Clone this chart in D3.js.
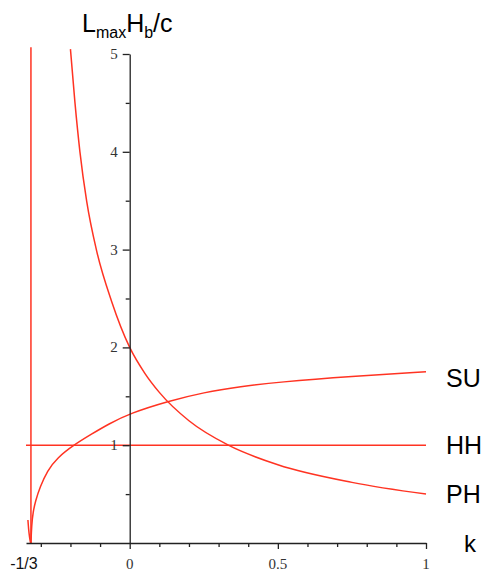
<!DOCTYPE html>
<html>
<head>
<meta charset="utf-8">
<script src="https://cdn.jsdelivr.net/npm/d3@7"></script>
<style>
  body { margin: 0; background: #fff; }
  svg { display: block; }
</style>
</head>
<body>
<div id="viz-container"></div>
<script>
'use strict';

// Values.
const kMin = -0.35;
const kMax = 1;
const xMajorTicks = [-1 / 3, 0, 0.5, 1];
const xMajorLabels = ['-1/3', '0', '0.5', '1'];
const xMinorTicks = [-0.3, -0.2, -0.1, 0.1, 0.2, 0.3, 0.4, 0.6, 0.7, 0.8, 0.9];
const yMajorTicks = [1, 2, 3, 4, 5];
const yMinorTicks = [0.5, 1.5, 2.5, 3.5, 4.5];

// PH curve (k, value)
const phK = [-0.2, -0.185, -0.168, -0.145, -0.111, -0.061, 0, 0.05, 0.1, 0.2, 0.333, 0.5, 0.75, 1];
const phV = [5.05, 4.51, 4.0, 3.49, 2.98, 2.47, 2.0, 1.74, 1.54, 1.25, 1.0, 0.8, 0.62, 0.5];

// SU curve (k, value)
const suK = [-0.3333, -0.3333, -0.331, -0.326, -0.318, -0.303, -0.278, -0.245, -0.19, -0.128, -0.072, 0, 0.13, 0.25, 0.375, 0.5, 0.75, 1, 1];
const suV = [0, 0, 0.18, 0.32, 0.43, 0.57, 0.74, 0.87, 1.0, 1.115, 1.215, 1.325, 1.45, 1.54, 1.6, 1.645, 1.705, 1.75, 1.75];

// small branch just left of k = -1/3
const suLeftK = [-0.3435, -0.341, -0.338, -0.3345];
const suLeftV = [0.235, 0.14, 0.06, 0];

// HH line
const hhK = [-0.35, 1];
const hhV = [1, 1];

// vertical asymptote
const vK = [-1 / 3, -1 / 3];
const vV = [0, 5.07];

const seriesNames = ['SU', 'HH', 'PH'];
const seriesLabelV = [1.69, 1.0, 0.5];

const width = 486;
const height = 573;
const red = '#ff3322';

const x = d3.scaleLinear().domain([kMin, kMax]).range([26, 426]);
const y = d3.scaleLinear().domain([0, 5]).range([543, 54]);

const svg = d3.select('#viz-container')
    .append('svg')
    .attr('width', width)
    .attr('height', height);

function pts(ks, vs) {
    return ks.map((k, i) => [k, vs[i]]);
}

const straight = d3.line()
    .x(d => x(d[0]))
    .y(d => y(d[1]));

const smooth = d3.line()
    .x(d => x(d[0]))
    .y(d => y(d[1]))
    .curve(d3.curveMonotoneX);

const basis = d3.line()
    .x(d => x(d[0]))
    .y(d => y(d[1]))
    .curve(d3.curveBasis);

// curves
const curves = [
    { d: pts(vK, vV), gen: straight },
    { d: pts(hhK, hhV), gen: straight },
    { d: pts(suK, suV), gen: basis },
    { d: pts(suLeftK, suLeftV), gen: smooth },
    { d: pts(phK, phV), gen: smooth }
];

svg.append('g')
    .selectAll('path')
    .data(curves)
    .enter()
    .append('path')
    .attr('d', c => c.gen(c.d))
    .attr('fill', 'none')
    .attr('stroke', red)
    .attr('stroke-width', 1.5);

// x axis
const xg = svg.append('g').attr('transform', 'translate(0,' + y(0) + ')');
xg.call(d3.axisBottom(x).tickValues(xMinorTicks).tickSize(4).tickSizeOuter(0).tickFormat(''));
xg.append('g').call(d3.axisBottom(x).tickValues([0, 0.5, 1]).tickSize(6).tickSizeOuter(0).tickFormat(''))
    .select('.domain').remove();
xg.selectAll('path, line').attr('stroke', '#222').attr('stroke-width', 1.3);

// y axis
const yg = svg.append('g').attr('transform', 'translate(' + x(0) + ',0)');
yg.call(d3.axisLeft(y).tickValues(yMinorTicks).tickSize(4).tickSizeOuter(0).tickFormat(''));
yg.append('g').call(d3.axisLeft(y).tickValues(yMajorTicks).tickSize(7).tickSizeOuter(0).tickFormat(''))
    .select('.domain').remove();
yg.selectAll('path, line').attr('stroke', '#222').attr('stroke-width', 1.3);

// y tick labels
svg.append('g')
    .selectAll('text')
    .data(yMajorTicks)
    .enter()
    .append('text')
    .attr('x', x(0) - 12)
    .attr('y', d => y(d) + 5)
    .attr('text-anchor', 'end')
    .attr('font-family', '"Liberation Serif", serif')
    .attr('font-size', 15)
    .attr('fill', '#333')
    .text(d => d);

// x tick labels
svg.append('g')
    .selectAll('text')
    .data(xMajorTicks)
    .enter()
    .append('text')
    .attr('x', (d, i) => i === 0 ? x(d) - 7 : x(d))
    .attr('y', 569)
    .attr('text-anchor', 'middle')
    .attr('font-family', (d, i) => i === 0 ? '"Liberation Sans", Arial, sans-serif' : '"Liberation Serif", serif')
    .attr('font-size', (d, i) => i === 0 ? 16 : 15)
    .attr('fill', (d, i) => i === 0 ? '#111' : '#333')
    .text((d, i) => xMajorLabels[i]);

// series labels
svg.append('g')
    .selectAll('text')
    .data(seriesNames)
    .enter()
    .append('text')
    .attr('x', 446)
    .attr('y', (d, i) => y(seriesLabelV[i]) + 9)
    .attr('font-family', '"Liberation Sans", Arial, sans-serif')
    .attr('font-size', 25)
    .attr('fill', '#000')
    .text(d => d);

// axis titles
svg.append('text')
    .attr('x', 464)
    .attr('y', 552)
    .attr('font-family', '"Liberation Sans", Arial, sans-serif')
    .attr('font-size', 24)
    .text('k');

const title = svg.append('text')
    .attr('x', 82)
    .attr('y', 32)
    .attr('font-family', '"Liberation Sans", Arial, sans-serif')
    .attr('font-size', 25);
title.append('tspan').text('L');
title.append('tspan').attr('font-size', 16).attr('dy', 6).text('max');
title.append('tspan').attr('dy', -6).text('H');
title.append('tspan').attr('font-size', 16).attr('dy', 6).text('b');
title.append('tspan').attr('dy', -6).text('/c');
</script>
</body>
</html>
